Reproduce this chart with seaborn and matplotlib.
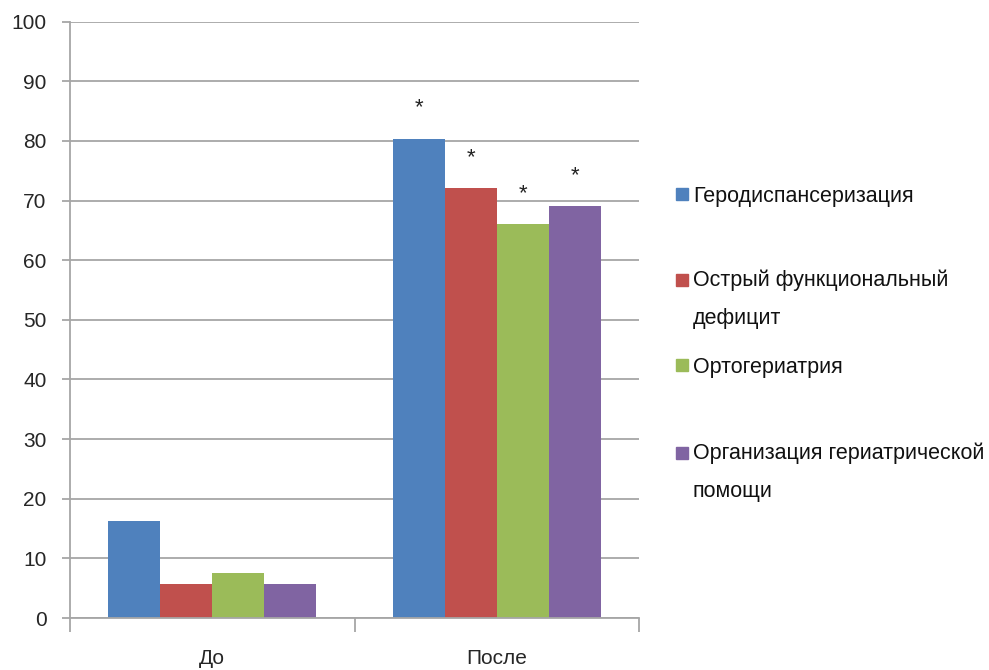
import matplotlib
matplotlib.use("Agg")
import matplotlib.pyplot as plt
import matplotlib.patches as mpatches
import seaborn as sns
import pandas as pd

# Share of patients (%) before and after, by programme
periods = ["До", "После"]
series = [
    "Геродиспансеризация",
    "Острый функциональный\nдефицит",
    "Ортогериатрия",
    "Организация гериатрической\nпомощи",
]
values_before = [16.3, 5.7, 7.6, 5.7]
values_after = [80.4, 72.1, 66.1, 69.1]
significant_after = [True, True, True, True]
colors = ["#4F81BD", "#C0504D", "#9BBB59", "#8064A2"]
yticks = [0, 10, 20, 30, 40, 50, 60, 70, 80, 90, 100]

rows = []
for s, b, a in zip(series, values_before, values_after):
    rows.append({"period": periods[0], "series": s, "value": b})
    rows.append({"period": periods[1], "series": s, "value": a})
df = pd.DataFrame(rows)

sns.set_theme(style="white")
plt.rcParams["font.family"] = ["Liberation Sans", "DejaVu Sans"]

fig = plt.figure(figsize=(9.89, 6.70), dpi=100)
ax = fig.add_axes([70 / 989, 52 / 670, 569 / 989, (618 - 21.7) / 670])

sns.barplot(data=df, x="period", y="value", hue="series", order=periods,
            hue_order=series, palette=colors, width=0.73, gap=0,
            saturation=1, edgecolor="none", linewidth=0, ax=ax, legend=False)

ax.set_xlim(-0.5, 1.5)
ax.set_ylim(0, 100)
ax.set_yticks(yticks)
ax.set_yticklabels([str(v) for v in yticks])
ax.set_xlabel("")
ax.set_ylabel("")

grid_c = "#A6A6A6"
ax.yaxis.grid(True, color=grid_c, linewidth=1.3)
ax.set_axisbelow(True)
for side in ["top", "right"]:
    ax.spines[side].set_visible(False)
for side in ["left", "bottom"]:
    ax.spines[side].set_color(grid_c)
    ax.spines[side].set_linewidth(1.3)

ax.tick_params(axis="y", which="major", direction="out", length=6, width=1.3,
               color=grid_c, labelsize=15, pad=11, left=True)
ax.set_xticks([0, 1])
ax.set_xticklabels(periods)
ax.set_xticks([-0.5, 0.5, 1.5], minor=True)
ax.tick_params(axis="x", which="major", length=0, labelsize=15, pad=22)
ax.tick_params(axis="x", which="minor", direction="out", length=10,
               width=1.3, color=grid_c, bottom=True)

# Significance marks above the "after" bars
after_bars = [c.patches[1] for c in ax.containers]
for bar, sig in zip(after_bars, significant_after):
    if sig:
        x = bar.get_x() + bar.get_width() / 2
        ax.text(x, bar.get_height() + 4.2, "*", ha="center", va="baseline",
                fontsize=16, color="#222222")

# Legend to the right of the plot
legend_y = [194, 280, 365, 453]
for s, c, y in zip(series, colors, legend_y):
    fy = 1 - y / 670
    fig.patches.append(mpatches.Rectangle((676 / 989, fy - 6 / 670), 12 / 989, 12 / 670,
                                          transform=fig.transFigure, color=c))
    if "\n" in s:
        fig.text(693 / 989, fy + 10 / 670, s, ha="left", va="top", fontsize=15.5,
                 linespacing=2.05, color="#111111")
    else:
        fig.text(693 / 989, fy, s, ha="left", va="center_baseline", fontsize=15.5,
                 color="#111111")

fig.savefig("out.png", dpi=100)
